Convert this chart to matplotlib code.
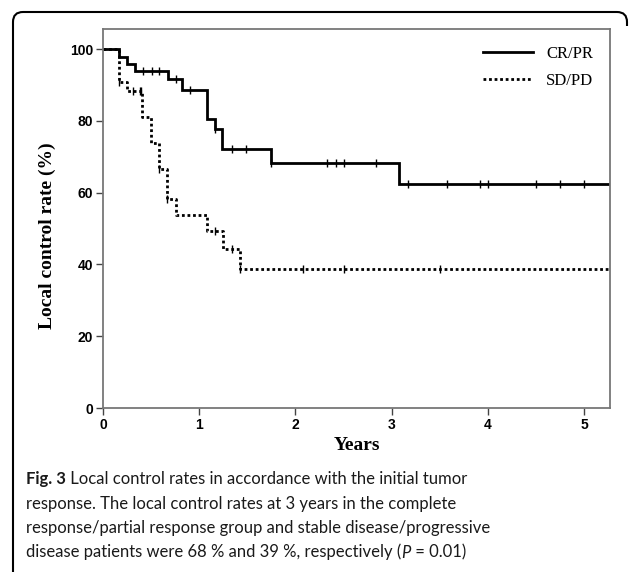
import numpy as np
import matplotlib
matplotlib.use("Agg")
import matplotlib.pyplot as plt
from matplotlib.path import Path
from matplotlib.patches import PathPatch

# Kaplan-Meier curves (years, %)
cr_times = [0, 0.166, 0.25, 0.33, 0.68, 0.82, 1.08, 1.16, 1.24, 1.75, 3.08]
cr_surv = [100, 97.9, 95.9, 93.9, 91.8, 88.7, 80.4, 77.7, 72.1, 68.4, 62.3]
cr_censor = [0.42, 0.51, 0.585, 0.76, 0.90, 1.16, 1.34, 1.49, 1.75, 2.33, 2.42,
             2.50, 2.84, 3.17, 3.58, 3.92, 4.00, 4.50, 4.75, 5.00]

sd_times = [0, 0.166, 0.25, 0.41, 0.50, 0.58, 0.67, 0.76, 1.08, 1.25, 1.42]
sd_surv = [100, 90.9, 88.2, 81.2, 73.9, 66.6, 58.1, 53.8, 49.3, 44.2, 38.7]
sd_censor = [0.17, 0.31, 0.38, 0.40, 0.58, 0.67, 1.16, 1.34, 1.42, 2.08, 2.50, 3.50]

x_end = 5.27
yticks = [0, 20, 40, 60, 80, 100]
xticks = [0, 1, 2, 3, 4, 5]

caption_lines = [
    "response. The local control rates at 3 years in the complete",
    "response/partial response group and stable disease/progressive",
]

W, H = 634, 572
fig = plt.figure(figsize=(W / 100, H / 100), dpi=100)
fig.patch.set_facecolor("white")


def fx(px):
    return px / W


def fy(py):
    return 1 - py / H


ax = fig.add_axes([fx(103), fy(408), fx(610) - fx(103), fy(29) - fy(408)])


def km_step(times, surv, censor, ls, label):
    t = list(times) + [x_end]
    s = list(surv) + [surv[-1]]
    ax.step(t, s, where="post", color="black", lw=2.0, ls=ls, label=label,
            solid_joinstyle="miter")
    # censor marks sit on the curve
    idx = np.searchsorted(times, censor, side="right") - 1
    cy = np.array(surv)[idx]
    ax.plot(censor, cy, ls="none", marker="|", ms=6, mew=1.0, color="black")


km_step(cr_times, cr_surv, cr_censor, "-", "CR/PR")
km_step(sd_times, sd_surv, sd_censor, (0, (1, 1)), "SD/PD")

ax.set_xlim(0, x_end)
ax.set_ylim(0, 105.6)
ax.set_xticks(xticks)
ax.set_yticks(yticks)
for sp in ax.spines.values():
    sp.set_color("#777777")
    sp.set_linewidth(1.3)
ax.tick_params(direction="out", length=5, width=1, color="#444444", pad=2)
for lab in ax.get_xticklabels() + ax.get_yticklabels():
    lab.set_fontfamily("Liberation Sans")
    lab.set_fontweight("bold")
    lab.set_fontsize(10)

ax.set_xlabel("Years", family="Liberation Serif", fontweight="bold",
              fontsize=14, labelpad=4)
ax.set_ylabel("Local control rate (%)", family="Liberation Serif",
              fontweight="bold", fontsize=14, labelpad=10)
ax.yaxis.label.set_y(0.455)

leg = ax.legend(loc="upper right", frameon=False, handlelength=3.0,
                prop={"family": "Liberation Serif", "size": 12},
                borderaxespad=0.6, labelspacing=0.7, handletextpad=0.8)

# caption with mixed styles
cap_font = "Lato"
cap_size = 12.0
fig.canvas.draw()
renderer = fig.canvas.get_renderer()


def pieces(y, parts):
    x = fx(26)
    for txt, kw in parts:
        t = fig.text(x, y, txt, family=cap_font, fontsize=cap_size,
                     va="baseline", ha="left", color="#1a1a1a", **kw)
        bb = t.get_window_extent(renderer)
        x = bb.x1 / (W)


pieces(fy(484), [("Fig. 3", {"fontweight": "bold"}),
                 (" Local control rates in accordance with the initial tumor", {})])
pieces(fy(508.5), [(caption_lines[0], {})])
pieces(fy(533), [(caption_lines[1], {})])
pieces(fy(557.5), [("disease patients were 68 % and 39 %, respectively (", {}),
                   ("P", {"style": "italic"}),
                   (" = 0.01)", {})])

# outer rounded frame (left, top, top-right corner)
r = 10
verts = [(13, H), (13, 12 + r), (13, 12), (13 + r, 12), (627 - r, 12),
         (627, 12), (627, 12 + r), (627, 12 + r + 4)]
codes = [Path.MOVETO, Path.LINETO, Path.CURVE3, Path.CURVE3, Path.LINETO,
         Path.CURVE3, Path.CURVE3, Path.LINETO]
path = Path([(fx(a), fy(b)) for a, b in verts], codes)
fig.patches.append(PathPatch(path, transform=fig.transFigure, fill=False,
                             lw=1.5, edgecolor="black"))

fig.savefig("out.png", dpi=100)
